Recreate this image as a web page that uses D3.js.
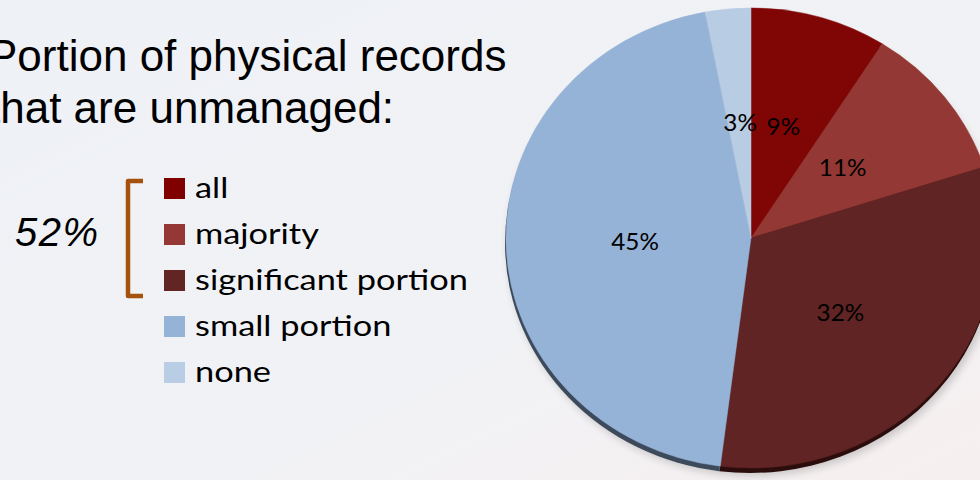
<!DOCTYPE html>
<html>
<head>
<meta charset="utf-8">
<script src="https://cdn.jsdelivr.net/npm/d3@7"></script>
<style>
  html, body { margin: 0; padding: 0; overflow: hidden; }
  svg { display: block; }
</style>
</head>
<body>
<svg id="chart" width="980" height="480"></svg>
<script>
// ---- data ----
const categories = ["all", "majority", "significant portion", "small portion", "none"];
const values = [9, 11, 32, 45, 3];
const valueLabels = ["9%", "11%", "32%", "45%", "3%"];
const colors = ["#800505", "#933834", "#5f2423", "#95b2d7", "#b8cce3"];
const sideColors = ["#3a0a0a", "#3c1312", "#2a0d0c", "#3c4a5c", "#4a5666"];
const legendColors = ["#800000", "#953735", "#632523", "#95b3d7", "#b9cde5"];
const titleLines = ["that are unmanaged:", "Portion of physical records"];
const bracketLabel = "52%";

(function () {
const svg = d3.select("#chart");
const W = 980, H = 480;

// background gradient
const defs = svg.append("defs");
const bg = defs.append("linearGradient").attr("id", "bg")
  .attr("x1", "0").attr("y1", "0").attr("x2", "1").attr("y2", "1");
bg.append("stop").attr("offset", "0%").attr("stop-color", "#eef1f6");
bg.append("stop").attr("offset", "60%").attr("stop-color", "#f1f2f5");
bg.append("stop").attr("offset", "100%").attr("stop-color", "#f6efef");
svg.append("rect").attr("width", W).attr("height", H).attr("fill", "url(#bg)");

const blur = defs.append("filter").attr("id", "blur")
  .attr("x", "-10%").attr("y", "-10%").attr("width", "120%").attr("height", "120%");
blur.append("feGaussianBlur").attr("stdDeviation", 4);

// title
svg.append("text")
  .attr("x", -12).attr("y", 71)
  .attr("font-family", "'Liberation Sans', Arial, sans-serif")
  .attr("font-size", 44).attr("fill", "#000")
  .text(titleLines[1]);
svg.append("text")
  .attr("x", -12).attr("y", 123)
  .attr("font-family", "'Liberation Sans', Arial, sans-serif")
  .attr("font-size", 44).attr("fill", "#000")
  .text(titleLines[0]);

// 52% label + bracket
svg.append("text")
  .attr("x", 15).attr("y", 246)
  .attr("font-family", "'Liberation Sans', Arial, sans-serif")
  .attr("font-style", "italic")
  .attr("font-size", 40).attr("fill", "#000")
  .attr("letter-spacing", 1.5)
  .text(bracketLabel);

const legendY = d3.scaleBand().domain(categories).range([176, 406]).paddingInner(0);
// bracket spanning first three rows
const bTop = legendY(categories[0]) + 5, bBot = legendY(categories[2]) + legendY.bandwidth() - 18;
svg.append("path")
  .attr("d", `M143,${bTop} L128,${bTop} L128,${bBot} L143,${bBot}`)
  .attr("fill", "none").attr("stroke", "#a4520e").attr("stroke-width", 4.5)
  .attr("stroke-linejoin", "round");

// legend
const leg = svg.append("g");
const rows = leg.selectAll("g").data(categories).join("g")
  .attr("transform", d => `translate(164,${legendY(d)})`);
rows.append("rect").attr("x", 0).attr("y", 2).attr("width", 21).attr("height", 21)
  .attr("fill", (d, i) => legendColors[i]);
const legTexts = rows.append("text").attr("x", 0).attr("y", 0)
  .attr("font-family", "Lato, 'Noto Sans', sans-serif")
  .attr("font-size", 29).attr("fill", "#000")
  .text(d => d);
// the source renders the legend text wider than Lato: stretch horizontally
let maxW = 0;
legTexts.each(function () { maxW = Math.max(maxW, this.getComputedTextLength()); });
const stretch = maxW > 0 ? 273 / maxW : 1;
legTexts.attr("transform", `translate(31,22) scale(${stretch},1)`);

// pie
const cx = 751, cy = 238, R = 230, sx = 245 / 230;
const pie = d3.pie().sort(null).value(d => d)(values);
const arc = d3.arc().innerRadius(0).outerRadius(R);
const labelArc = d3.arc().innerRadius(116).outerRadius(116);

// soft drop shadow
svg.append("ellipse").attr("cx", cx + 2).attr("cy", cy + 8).attr("rx", R * sx).attr("ry", R)
  .attr("fill", "#000").attr("opacity", 0.18).attr("filter", "url(#blur)");

const sideG = svg.append("g").attr("transform", `translate(${cx - 1},${cy + 5}) scale(${sx},1)`);
sideG.selectAll("path").data(pie).join("path")
  .attr("d", arc).attr("fill", (d, i) => sideColors[i]);

const faceG = svg.append("g").attr("transform", `translate(${cx},${cy}) scale(${sx},1)`);
faceG.selectAll("path").data(pie).join("path")
  .attr("d", arc).attr("fill", (d, i) => colors[i])
  .attr("stroke", (d, i) => colors[i]).attr("stroke-width", 0.5);

const labels = svg.append("g").attr("transform", `translate(${cx},${cy})`);
labels.selectAll("text").data(pie).join("text")
  .attr("transform", d => `translate(${labelArc.centroid(d)[0]},${labelArc.centroid(d)[1]}) scale(1.08,1)`)
  .attr("text-anchor", "middle").attr("dominant-baseline", "central")
  .attr("font-family", "Lato, 'Noto Sans', sans-serif")
  .attr("font-size", 22.5).attr("fill", "#000")
  .text((d, i) => valueLabels[i]);
})();
</script>
</body>
</html>
